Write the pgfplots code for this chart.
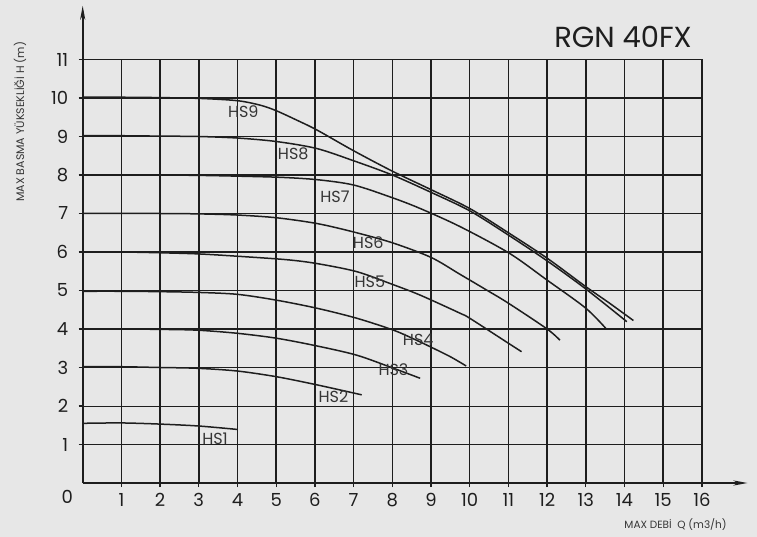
\documentclass[border=0pt]{standalone}
\usepackage{pgfplots}
\pgfplotsset{compat=1.18}
\usepackage{fontspec}
\setmainfont{Poppins}
\usetikzlibrary{arrows.meta}
\definecolor{bg}{HTML}{E7E7E7}
\definecolor{ink}{HTML}{1E1E1E}
\definecolor{lab}{HTML}{353535}
\begin{document}
\begin{tikzpicture}
\fill[bg] (-82.7bp,-54bp) rectangle (674.3bp,483bp);
\begin{axis}[
  scale only axis, width=619.2bp, height=423.5bp,
  xmin=0, xmax=16, ymin=0, ymax=11,
  axis line style={draw=none},
  xtick={1,...,16}, ytick={3,...,10},
  extra y ticks={1,2,11},
  extra y tick style={grid style={ink, line width=0.9bp}},
  xtick pos=bottom, ytick pos=left,
  grid=major, grid style={ink, line width=1.5bp},
  tick align=outside, major tick length=4bp,
  tick style={ink, line width=1.3bp},
  ticklabel style={font=\fontsize{18bp}{18bp}\selectfont, text=ink},
  /pgf/number format/assume math mode=true,
  xticklabel style={yshift=-3bp},
  yticklabel style={xshift=-7bp},
  clip=false,
]
\addplot[ink, line width=1.5bp, smooth, tension=0.5] coordinates {
(0,10.02) (1,10.02) (2,10.01) (3,9.99) (4,9.93) (4.6,9.81) (5,9.67) (5.5,9.44) (6.05,9.17) (7,8.63) (8,8.1) (9,7.62) (10,7.13) (11,6.5) (12,5.84) (13,5.1) (13.6,4.68) (14.23,4.22)};
\addplot[ink, line width=1.5bp, smooth, tension=0.5] coordinates {
(0,9.02) (1,9.02) (2,9.01) (3,9.0) (4,8.96) (5,8.87) (6.04,8.69) (7,8.37) (8,8.0) (9,7.55) (10,7.07) (11,6.44) (12,5.77) (13,5.04) (14.06,4.19)};
\addplot[ink, line width=1.5bp, smooth, tension=0.5] coordinates {
(0,8.0) (1,8.0) (2,8.0) (3,7.99) (4,7.97) (5.1,7.94) (6.04,7.88) (7,7.74) (8,7.41) (8.72,7.13) (9.75,6.66) (11.02,5.97) (12,5.27) (13,4.54) (13.54,3.99)};
\addplot[ink, line width=1.5bp, smooth, tension=0.5] coordinates {
(0,7.0) (1,7.0) (2,7.0) (3,6.99) (4,6.96) (5,6.89) (6.05,6.74) (7,6.52) (8,6.24) (9,5.86) (9.75,5.42) (10.44,5.01) (11,4.67) (12,4.0) (12.33,3.71)};
\addplot[ink, line width=1.5bp, smooth, tension=0.5] coordinates {
(0,6.0) (1,6.0) (2,5.98) (3,5.95) (4,5.89) (5.27,5.8) (6.05,5.7) (7.08,5.49) (8,5.16) (8.72,4.88) (9.75,4.41) (10,4.28) (11,3.63) (11.34,3.41)};
\addplot[ink, line width=1.5bp, smooth, tension=0.5] coordinates {
(0,4.98) (1,4.98) (2,4.97) (3,4.95) (4,4.9) (5,4.75) (6.05,4.54) (7.08,4.28) (8.03,3.97) (8.6,3.72) (9.06,3.5) (9.5,3.28) (9.91,3.04)};
\addplot[ink, line width=1.5bp, smooth, tension=0.5] coordinates {
(0,4.0) (1,4.0) (2,3.99) (2.95,3.97) (3.98,3.89) (5.01,3.76) (6.05,3.56) (7.08,3.32) (8.03,2.98) (8.72,2.72)};
\addplot[ink, line width=1.5bp, smooth, tension=0.5] coordinates {
(0,3.02) (1,3.02) (2,3.0) (2.95,2.98) (3.98,2.91) (5.01,2.76) (6.05,2.55) (7.21,2.29)};
\addplot[ink, line width=1.5bp, smooth, tension=0.5] coordinates {
(0,1.55) (1,1.56) (2,1.53) (3,1.48) (4.01,1.39)};
\draw[ink, line width=2bp, -{Stealth[length=14bp,width=5bp,inset=4bp]}] (axis cs:0,0) -- (axis cs:17.18,0);
\draw[ink, line width=2bp, -{Stealth[length=14bp,width=5bp,inset=4bp]}] (axis cs:0,0) -- (axis cs:0,12.4);
\begin{scope}[every node/.style={font=\fontsize{16bp}{16bp}\selectfont, text=lab, fill=none, inner sep=0pt}]
\node at (axis cs:4.15,9.64) {HS9};
\node at (axis cs:5.44,8.56) {HS8};
\node at (axis cs:6.52,7.44) {HS7};
\node at (axis cs:7.38,6.23) {HS6};
\node at (axis cs:7.42,5.23) {HS5};
\node at (axis cs:8.67,3.71) {HS4};
\node at (axis cs:8.03,2.95) {HS3};
\node at (axis cs:6.48,2.24) {HS2};
\node at (axis cs:3.42,1.14) {HS1};
\end{scope}
\node[font=\fontsize{18bp}{18bp}\selectfont, text=ink] at (axis cs:-0.4,-0.36) {0};
\node[font=\fontsize{29bp}{29bp}\selectfont, text=ink] at (axis cs:13.96,11.58) {RGN 40FX};
\node[rotate=90, font=\fontsize{11bp}{11bp}\selectfont, text=lab] at (axis cs:-1.62,9.38) {MAX BASMA YÜKSEKLİĞİ H (m)};
\node[font=\fontsize{10.5bp}{10.5bp}\selectfont, text=lab] at (axis cs:15.32,-1.09) {MAX DEBİ\ \ Q (m3/h)};
\end{axis}
\pgfresetboundingbox
\path[use as bounding box] (-82.7bp,-54bp) rectangle (674.3bp,483bp);
\end{tikzpicture}
\end{document}
